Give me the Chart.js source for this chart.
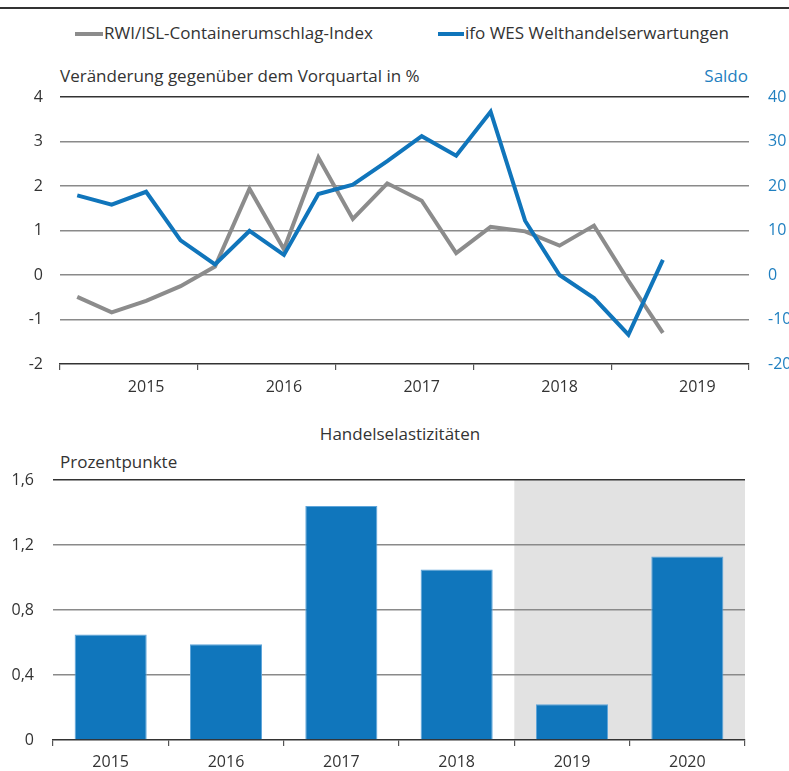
<!DOCTYPE html>
<html><head><meta charset="utf-8">
<script src="https://cdn.jsdelivr.net/npm/chart.js@4"></script>
<style>
html,body{margin:0;padding:0;background:#fff;width:789px;height:771px;overflow:hidden;font-family:"Open Sans",sans-serif;color:#333;}
.t{position:absolute;white-space:nowrap;font-size:17px;line-height:20px;}
.sw{position:absolute;height:4px;}
#rule{position:absolute;left:0;top:7px;width:789px;height:2px;background:#333;}
canvas{position:absolute;left:0;}
</style></head>
<body>
<div id="rule"></div>
<div class="sw" style="left:75px;top:32px;width:28px;background:#8c8c8c"></div>
<div class="t" style="left:104px;top:23px">RWI/ISL-Containerumschlag-Index</div>
<div class="sw" style="left:438px;top:32px;width:26px;background:#1075bb"></div>
<div class="t" style="left:465px;top:23px">ifo WES Welthandelserwartungen</div>
<div class="t" style="left:60px;top:66px">Veränderung gegenüber dem Vorquartal in %</div>
<div class="t" style="right:41px;top:66px;color:#1f7fc0">Saldo</div>
<div class="t" style="left:0;width:800px;text-align:center;top:424px">Handelselastizitäten</div>
<div class="t" style="left:60px;top:452px">Prozentpunkte</div>
<canvas id="top" width="789" height="400" style="top:0"></canvas>
<canvas id="bot" width="789" height="371" style="top:400px"></canvas>
<script>
// ---- data ----
const years = ['2015','2016','2017','2018','2019'];
const containerIndex = [-0.49,-0.84,-0.58,-0.25,0.19,1.94,0.58,2.64,1.26,2.06,1.67,0.49,1.08,0.98,0.66,1.11,-0.13,-1.30];
const ifoWES = [17.9,15.8,18.7,7.8,2.4,9.9,4.5,18.2,20.3,25.6,31.2,26.8,36.7,12.2,0,-5.2,-13.4,3.4];
const leftTicks = [-2,-1,0,1,2,3,4];
const rightTicks = [-20,-10,0,10,20,30,40];
const barYears = ['2015','2016','2017','2018','2019','2020'];
const elasticity = [0.65,0.59,1.44,1.05,0.22,1.13];
const barTicks = [0,0.4,0.8,1.2,1.6];
const forecastFrom = '2019';

const GRID = '#8a8a8a', DARK = '#333', BLUE = '#1075bb', GRAY = '#8c8c8c', TXT = '#333';
const FONT = {family:'"Open Sans", sans-serif', size:16};

// ---- top line chart ----
const xTicks = [];
years.forEach((y,i)=>{ xTicks.push({value:i*4}); xTicks.push({value:i*4+2.5}); });
xTicks.push({value:years.length*4});

new Chart(document.getElementById('top'), {
  type:'line',
  data:{datasets:[
    {label:'ifo WES Welthandelserwartungen', data:ifoWES.map((v,i)=>({x:i+0.5,y:v})), yAxisID:'y2',
     borderColor:BLUE, borderWidth:4, pointRadius:0, tension:0, fill:false, order:0},
    {label:'RWI/ISL-Containerumschlag-Index', data:containerIndex.map((v,i)=>({x:i+0.5,y:v})), yAxisID:'y',
     borderColor:GRAY, borderWidth:4, pointRadius:0, tension:0, fill:false, order:1}
  ]},
  options:{
    responsive:false, animation:false, devicePixelRatio:1,
    layout:{padding:{top:97,left:0,right:0,bottom:0}},
    plugins:{legend:{display:false}, tooltip:{enabled:false}},
    scales:{
      x:{type:'linear', min:0, max:years.length*4, position:'bottom',
        afterBuildTicks:s=>{s.ticks = xTicks.map(t=>({value:t.value}));},
        afterFit:s=>{s.height=36;},
        border:{display:true, color:DARK, width:1.5},
        grid:{drawOnChartArea:false, drawTicks:true, tickLength:6, lineWidth:1.2,
          color:c=> (c.tick && c.tick.value%4===0) ? '#555' : 'rgba(0,0,0,0)'},
        ticks:{autoSkip:false, maxRotation:0, padding:8, color:TXT, font:FONT,
          callback:v=> (v%4===2.5) ? years[(v-2.5)/4] : ''}
      },
      y:{type:'linear', position:'left', min:-2, max:4,
        afterBuildTicks:s=>{s.ticks = leftTicks.map(v=>({value:v}));},
        afterFit:s=>{s.width=60;},
        border:{display:false},
        grid:{drawTicks:false, lineWidth:1.5,
          color:c=> c.tick.value===4 ? DARK : (c.tick.value===-2 ? 'rgba(0,0,0,0)' : GRID)},
        ticks:{padding:17, color:TXT, font:FONT, callback:v=>String(v)}
      },
      y2:{type:'linear', position:'right', min:-20, max:40,
        afterBuildTicks:s=>{s.ticks = rightTicks.map(v=>({value:v}));},
        afterFit:s=>{s.width=40;},
        border:{display:false},
        grid:{drawOnChartArea:false, drawTicks:false},
        ticks:{padding:19, color:'#1f7fc0', font:FONT, crossAlign:'near', callback:v=>String(v)}
      }
    }
  }
});

// ---- bottom bar chart ----
const shade = {
  id:'shade',
  beforeDraw(chart){
    const x = chart.scales.x, a = chart.chartArea, ctx = chart.ctx;
    const i = barYears.indexOf(forecastFrom);
    const left = (x.getPixelForValue(i-1) + x.getPixelForValue(i))/2;
    ctx.save(); ctx.fillStyle='#e2e2e2';
    ctx.fillRect(left, a.top, a.right-left, a.bottom-a.top);
    ctx.restore();
  }
};

new Chart(document.getElementById('bot'), {
  type:'bar',
  data:{labels:barYears, datasets:[{label:'Handelselastizitäten', data:elasticity,
    backgroundColor:'#1076bc', borderColor:'#5ea5da', borderWidth:1,
    barPercentage:0.625, categoryPercentage:1}]},
  options:{
    responsive:false, animation:false, devicePixelRatio:1,
    layout:{padding:{top:80,left:0,right:44,bottom:0}},
    plugins:{legend:{display:false}, tooltip:{enabled:false}},
    scales:{
      x:{type:'category',
        afterFit:s=>{s.height=31;},
        border:{display:true, color:DARK, width:1.5},
        grid:{offset:true, drawOnChartArea:false, drawTicks:true, tickLength:6, color:'#555', lineWidth:1.2},
        ticks:{padding:7, color:TXT, font:FONT, maxRotation:0}
      },
      y:{type:'linear', min:0, max:1.6,
        afterBuildTicks:s=>{s.ticks = barTicks.map(v=>({value:v}));},
        afterFit:s=>{s.width=53;},
        border:{display:false},
        grid:{drawTicks:false, lineWidth:1.5,
          color:c=> Math.abs(c.tick.value-1.6)<1e-9 ? DARK : (c.tick.value===0 ? 'rgba(0,0,0,0)' : GRID)},
        ticks:{padding:19, color:TXT, font:FONT,
          callback:v=> v===0 ? '0' : v.toFixed(1).replace('.',',')}
      }
    }
  },
  plugins:[shade]
});
</script>
</body></html>
